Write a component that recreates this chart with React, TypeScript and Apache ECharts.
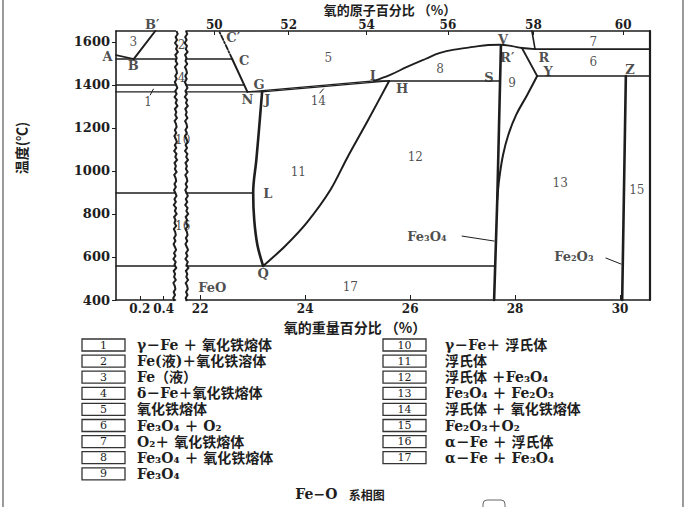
import React, { useEffect, useRef } from 'react';
import * as echarts from 'echarts';

// ---------------- axis tick values ----------------
const tempTicks = [400, 600, 800, 1000, 1200, 1400, 1600];
const wtTicksLeft = [0.2, 0.4];
const wtTicksRight = [22, 24, 26, 28, 30];
const atomicTicks = [50, 52, 54, 56, 58, 60];

// ---------------- left panel (0 – 0.5 wt% O) ----------------
const isoTempsLeft = [1520, 1399, 1367, 897, 558];
const lineAB = [[0, 1538], [0.15, 1520]];
const lineBBprime = [[0.15, 1520], [0.33, 1650]];

// ---------------- right panel (21.7 – 30.6 wt% O) ----------------
// [temperature, from wt%, to wt%]
const isoRight = [
  [1520, 21.73, 22.61],
  [1399, 21.73, 22.84],
  [1367, 21.73, 23.18],
  [897, 21.73, 23.01],
  [558, 21.73, 27.61],
];
const lineCN = [[22.61, 1520], [22.90, 1367]];
const lineCCprime = [[22.61, 1520], [22.36, 1650]];
const lineNI = [[22.90, 1367], [25.31, 1418]];
const lineJH = [[23.18, 1367], [25.60, 1418]];
const lineIS = [[25.31, 1418], [27.71, 1418]];
const curveJLQ = [[23.18, 1367], [23.12, 1190], [23.07, 1051], [23.01, 897], [23.03, 772], [23.09, 656], [23.2, 558]];
const curveHQ = [[25.60, 1418], [25.20, 1236], [24.80, 1060], [24.48, 911], [24.04, 762], [23.62, 651], [23.2, 558]];
const curveIVR = [[25.31, 1418], [25.62, 1446], [25.94, 1483], [26.29, 1520], [26.57, 1548], [26.91, 1566], [27.2, 1576], [27.49, 1585], [27.71, 1586], [27.94, 1580], [28.13, 1571], [28.38, 1566]];
const lineRtoEdge = [[28.38, 1566], [30.57, 1566]];
const lineFe3O4 = [[27.73, 1583], [27.66, 865], [27.60, 400]];
const lineRY = [[28.13, 1571], [28.42, 1441]];
const curveY = [[28.42, 1441], [28.23, 1353], [28.02, 1260], [27.87, 1167], [27.77, 1074], [27.70, 967], [27.66, 865]];
const lineYZ = [[28.42, 1441], [30.57, 1441]];
const lineZ = [[30.11, 1441], [30.04, 400]];
const line58 = [[28.38, 1566], [28.32, 1650]];

// leader strokes for labels
const leader1 = [[0.288, 1353], [0.314, 1380]];
const leader14 = [[24.28, 1362], [24.35, 1381]];
const leaderFe3O4 = [[26.99, 697], [27.60, 674]];
const leaderFe2O3 = [[29.73, 595], [30.02, 567]];

// ---------------- labels (text, wt%, °C) ----------------
const regionLeft = [['1', 0.27, 1318], ['2', 0.55, 1585], ['3', 0.145, 1599], ['4', 0.55, 1432], ['10', 0.56, 1144], ['16', 0.56, 744]];
const pointLeft = [['A', -0.07, 1533], ['B', 0.145, 1492], ['B′', 0.305, 1680]];
const regionRight = [
  ['5', 24.44, 1525], ['6', 29.49, 1506], ['7', 29.49, 1599], ['8', 26.57, 1473], ['9', 27.94, 1410],
  ['11', 23.87, 995], ['12', 26.10, 1065], ['13', 28.86, 944], ['14', 24.25, 1327], ['15', 30.32, 911], ['17', 24.86, 460],
];
const pointRight = [
  ['C', 22.84, 1515], ['C′', 22.63, 1622], ['G', 23.12, 1401], ['N', 22.90, 1334], ['J', 23.28, 1334],
  ['I', 25.29, 1443], ['H', 25.85, 1385], ['L', 23.29, 897], ['Q', 23.20, 521], ['V', 27.77, 1610],
  ['R′', 27.85, 1529], ['R', 28.55, 1529], ['S', 27.50, 1432], ['Y', 28.63, 1460], ['Z', 30.19, 1469],
];
const phaseNames = [['FeO', 22.23, 460], ['Fe₃O₄', 26.32, 693], ['Fe₂O₃', 29.12, 600]];

// ---------------- legend ----------------
const legendLeftCodes = ['1', '2', '3', '4', '5', '6', '7', '8', '9'];
const legendLeftTexts = [
  'γ－Fe ＋ 氧化铁熔体',
  'Fe(液)＋氧化铁溶体',
  'Fe（液）',
  'δ－Fe＋氧化铁熔体',
  '氧化铁熔体',
  'Fe₃O₄ ＋ O₂',
  'O₂＋ 氧化铁熔体',
  'Fe₃O₄ ＋ 氧化铁熔体',
  'Fe₃O₄',
];
const legendRightCodes = ['10', '11', '12', '13', '14', '15', '16', '17'];
const legendRightTexts = [
  'γ－Fe＋ 浮氏体',
  '浮氏体',
  '浮氏体 ＋Fe₃O₄',
  'Fe₃O₄ ＋ Fe₂O₃',
  '浮氏体 ＋ 氧化铁熔体',
  'Fe₂O₃＋O₂',
  'α－Fe ＋ 浮氏体',
  'α－Fe ＋ Fe₃O₄',
];

const INK = '#1e1e1e';
const SERIF = "'DejaVu Serif', 'Liberation Serif', 'Noto Sans CJK SC', serif";
const CJK = "'Noto Sans CJK SC', 'DejaVu Serif', sans-serif";

const atToWt = (a: number) => (100 * a * 16) / (a * 16 + (100 - a) * 55.845);
const atomicAsWt = atomicTicks.map(atToWt);

function lineS(data: number[][], grid: number, width = 1.6, extra: any = {}) {
  return {
    type: 'line',
    xAxisIndex: grid === 0 ? 0 : 2,
    yAxisIndex: grid,
    data,
    symbol: 'none',
    showSymbol: false,
    smooth: extra.smooth || false,
    clip: false,
    silent: true,
    z: 3,
    lineStyle: { color: INK, width, type: extra.type || 'solid', cap: 'round' },
  };
}

function labelS(items: any[], grid: number, font: any) {
  return {
    type: 'scatter',
    xAxisIndex: grid === 0 ? 0 : 2,
    yAxisIndex: grid,
    symbol: 'circle',
    symbolSize: 1,
    clip: false,
    silent: true,
    z: 6,
    itemStyle: { color: 'rgba(0,0,0,0)' },
    data: items.map((d) => ({ name: d[0], value: [d[1], d[2]] })),
    label: { show: true, position: 'inside', formatter: '{b}', color: INK, textBorderWidth: 0, ...font },
  };
}

const jitter = [0, 1.2, -0.8, 0.6, -1.4, 0.9, -0.3, 1.5, -1.0, 0.4, -0.6, 1.1, -1.2, 0.2, 0.8, -0.9, 0.5, -1.3];
function wavy(x0: number, drift: number) {
  const pts: number[][] = [];
  let k = 0;
  for (let y = 31; y <= 301; y += 3) {
    pts.push([x0 + jitter[k % jitter.length] + (drift * (y - 31)) / 270, y]);
    k++;
  }
  return pts;
}

function buildOption() {
  const axisLineStyle = { show: true, onZero: false, lineStyle: { color: INK, width: 1.6 } };
  const tickFont = { fontFamily: SERIF, fontWeight: 'bold', fontSize: 12, color: INK };

  const series: any[] = [];
  // left panel
  isoTempsLeft.forEach((t) => series.push(lineS([[0, t], [0.5, t]], 0, 1.4)));
  series.push(lineS(lineAB, 0, 1.6));
  series.push(lineS(lineBBprime, 0, 2));
  series.push(lineS(leader1, 0, 1));
  // right panel
  isoRight.forEach((r) => series.push(lineS([[r[1], r[0]], [r[2], r[0]]], 1, 1.4)));
  series.push(lineS(lineCN, 1, 2));
  series.push(lineS(lineCCprime, 1, 1.8, { type: [5, 2, 1.5, 2] }));
  series.push(lineS(lineNI, 1, 1.3));
  series.push(lineS(lineJH, 1, 1.3));
  series.push(lineS(lineIS, 1, 1.4));
  series.push(lineS(curveJLQ, 1, 2.6, { smooth: 0.4 }));
  series.push(lineS(curveHQ, 1, 2, { smooth: 0.3 }));
  series.push(lineS(curveIVR, 1, 1.8, { smooth: 0.4 }));
  series.push(lineS(lineRtoEdge, 1, 1.6));
  series.push(lineS(lineFe3O4, 1, 2.6));
  series.push(lineS(lineRY, 1, 1.8));
  series.push(lineS(curveY, 1, 2, { smooth: 0.4 }));
  series.push(lineS(lineYZ, 1, 1.6));
  series.push(lineS(lineZ, 1, 2.6));
  series.push(lineS(line58, 1, 1.6));
  series.push(lineS(leader14, 1, 1));
  series.push(lineS(leaderFe3O4, 1, 1));
  series.push(lineS(leaderFe2O3, 1, 1));
  // labels
  series.push(labelS(regionLeft, 0, { fontFamily: SERIF, fontSize: 12 }));
  series.push(labelS(pointLeft, 0, { fontFamily: SERIF, fontSize: 13, fontWeight: 'bold' }));
  series.push(labelS(regionRight, 1, { fontFamily: SERIF, fontSize: 12 }));
  series.push(labelS(pointRight, 1, { fontFamily: SERIF, fontSize: 13, fontWeight: 'bold' }));
  series.push(labelS(phaseNames, 1, { fontFamily: SERIF, fontSize: 13, fontWeight: 'bold' }));

  const graphic: any[] = [];
  // frame decoration of the scanned page
  graphic.push({ type: 'line', shape: { x1: 3, y1: 0, x2: 3, y2: 507 }, style: { stroke: '#9a9a9a', lineWidth: 2 } });
  graphic.push({ type: 'line', shape: { x1: 683, y1: 0, x2: 683, y2: 507 }, style: { stroke: '#9a9a9a', lineWidth: 2 } });
  // axis break (wavy lines)
  graphic.push({ type: 'polyline', shape: { points: wavy(176.5, -2) }, style: { stroke: INK, fill: 'none', lineWidth: 2 } });
  graphic.push({ type: 'polyline', shape: { points: wavy(186, 1) }, style: { stroke: INK, fill: 'none', lineWidth: 2 } });
  // titles
  graphic.push({
    type: 'text', x: 390, y: 9,
    style: { text: '氧的原子百分比 （%）', fontFamily: CJK, fontSize: 13, fontWeight: 'bold', fill: INK, align: 'center', verticalAlign: 'middle' },
  });
  graphic.push({
    type: 'text', x: 355, y: 327,
    style: { text: '氧的重量百分比 （%）', fontFamily: CJK, fontSize: 14, fontWeight: 'bold', fill: INK, align: 'center', verticalAlign: 'middle' },
  });
  graphic.push({
    type: 'text', x: 21, y: 148, rotation: Math.PI / 2,
    style: { text: '温度(℃)', fontFamily: CJK, fontSize: 14, fontWeight: 'bold', fill: INK, align: 'center', verticalAlign: 'middle' },
  });
  // legend
  const rowStep = 16.1;
  const addLegend = (codes: string[], texts: string[], bx: number, tx: number) => {
    codes.forEach((c, i) => {
      const y = 345 + rowStep * i;
      graphic.push({ type: 'rect', shape: { x: bx, y: y - 6, width: 43, height: 12 }, style: { fill: 'none', stroke: '#333', lineWidth: 1.3 } });
      graphic.push({ type: 'text', x: bx + 21.5, y, style: { text: c, fontFamily: SERIF, fontSize: 11, fill: INK, align: 'center', verticalAlign: 'middle' } });
      graphic.push({ type: 'text', x: tx, y, style: { text: texts[i], fontFamily: SERIF, fontSize: 14, fontWeight: 'bold', fill: INK, align: 'left', verticalAlign: 'middle' } });
    });
  };
  addLegend(legendLeftCodes, legendLeftTexts, 82, 137);
  addLegend(legendRightCodes, legendRightTexts, 383, 445);
  // caption
  graphic.push({
    type: 'text', x: 340, y: 494,
    style: {
      text: '{a|Fe−O} {b|系相图}',
      align: 'center', verticalAlign: 'middle', fill: INK,
      rich: {
        a: { fontFamily: SERIF, fontSize: 14, fontWeight: 'bold', fill: INK, padding: [0, 8, 0, 0] },
        b: { fontFamily: CJK, fontSize: 12, fontWeight: 'bold', fill: INK },
      },
    },
  });
  graphic.push({ type: 'rect', shape: { x: 483, y: 500, width: 22, height: 14, r: 4 }, style: { fill: 'none', stroke: '#666', lineWidth: 1 } });

  return {
    animation: false,
    backgroundColor: '#ffffff',
    grid: [
      { left: 116, top: 31, width: 59.5, height: 269 },
      { left: 186, top: 31, width: 464, height: 269 },
    ],
    xAxis: [
      {
        gridIndex: 0, type: 'value', position: 'bottom', min: 0, max: 0.5,
        axisLine: axisLineStyle, splitLine: { show: false },
        axisTick: { show: true, inside: true, length: 4, customValues: wtTicksLeft, lineStyle: { color: INK } },
        axisLabel: { ...tickFont, margin: 3, customValues: wtTicksLeft, formatter: (v: number) => String(v) },
      },
      {
        gridIndex: 0, type: 'value', position: 'top', min: 0, max: 0.5,
        axisLine: axisLineStyle, splitLine: { show: false }, axisTick: { show: false }, axisLabel: { show: false },
      },
      {
        gridIndex: 1, type: 'value', position: 'bottom', min: 21.73, max: 30.57,
        axisLine: axisLineStyle, splitLine: { show: false },
        axisTick: { show: true, inside: true, length: 5, customValues: wtTicksRight, lineStyle: { color: INK } },
        axisLabel: { ...tickFont, margin: 3, customValues: wtTicksRight, formatter: (v: number) => String(Math.round(v)) },
      },
      {
        gridIndex: 1, type: 'value', position: 'top', min: 21.73, max: 30.57,
        axisLine: axisLineStyle, splitLine: { show: false },
        axisTick: { show: true, inside: true, length: 4, customValues: atomicAsWt, lineStyle: { color: INK } },
        axisLabel: {
          ...tickFont, margin: 0, customValues: atomicAsWt,
          formatter: (v: number) => {
            let best = 0;
            atomicAsWt.forEach((w, i) => { if (Math.abs(w - v) < Math.abs(atomicAsWt[best] - v)) best = i; });
            return String(atomicTicks[best]);
          },
        },
      },
    ],
    yAxis: [
      {
        gridIndex: 0, type: 'value', position: 'left', min: 400, max: 1650,
        axisLine: axisLineStyle, splitLine: { show: false },
        axisTick: { show: true, length: 4, customValues: tempTicks, lineStyle: { color: INK } },
        axisLabel: { ...tickFont, fontSize: 13, margin: 6, customValues: tempTicks, formatter: (v: number) => String(v) },
      },
      {
        gridIndex: 1, type: 'value', position: 'right', min: 400, max: 1650,
        axisLine: { show: true, onZero: false, lineStyle: { color: INK, width: 2.2 } },
        splitLine: { show: false }, axisTick: { show: false }, axisLabel: { show: false },
      },
    ],
    series,
    graphic,
  };
}

export default function App() {
  const ref = useRef<HTMLDivElement>(null);
  useEffect(() => {
    const chart = echarts.init(ref.current as HTMLDivElement, null, { renderer: 'svg' });
    chart.setOption(buildOption() as any);
    return () => chart.dispose();
  }, []);
  return (
    <div
      ref={ref}
      style={{ position: 'fixed', left: 0, top: 0, width: 690, height: 507, background: '#fff' }}
    />
  );
}
